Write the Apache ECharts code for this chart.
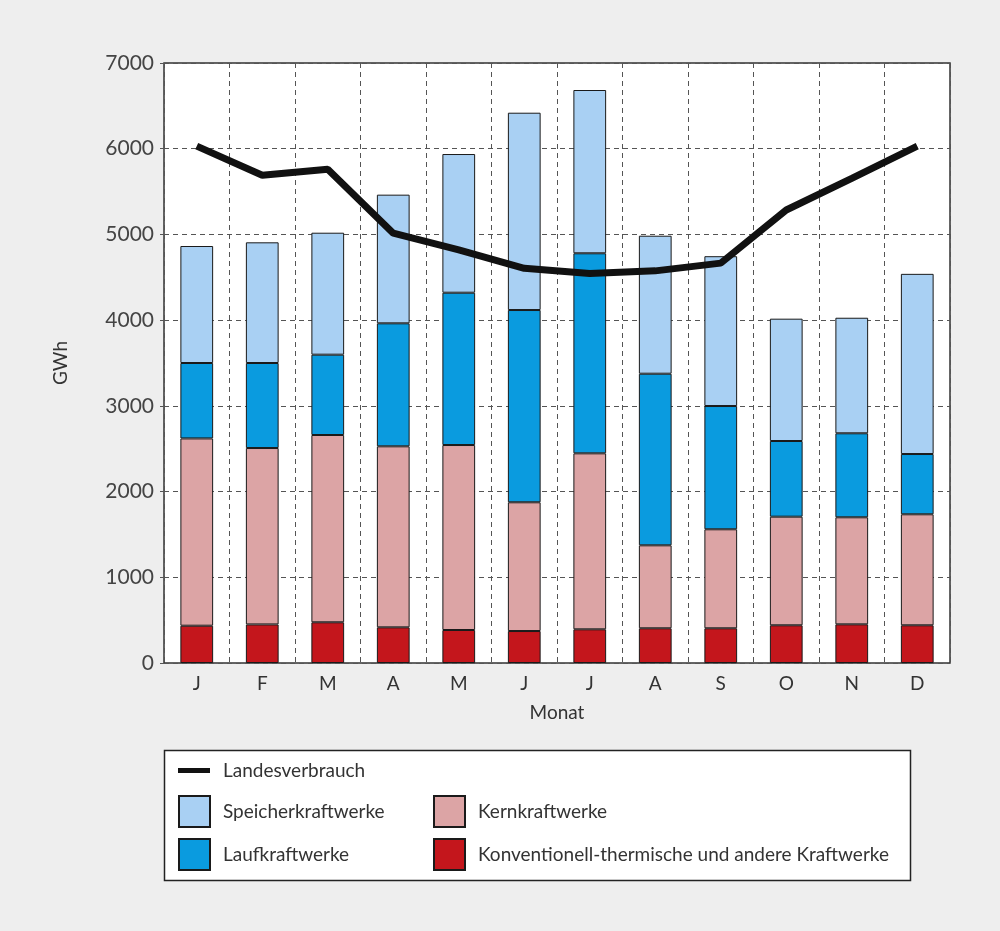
<!DOCTYPE html>
<html>
<head>
<meta charset="utf-8">
<script src="https://cdn.jsdelivr.net/npm/echarts@6/dist/echarts.min.js"></script>
<style>
  html, body { margin: 0; padding: 0; background: #eeeeee; }
  #chart1 { width: 1000px; height: 931px; }
</style>
</head>
<body>
<div id="chart1"></div>
<script>
    // Monate
    var monate = ['J','F','M','A','M','J','J','A','S','O','N','D'];
    var yTicks = [0, 1000, 2000, 3000, 4000, 5000, 6000, 7000];

    // Werte in GWh
    var konventionell = [435, 450, 475, 416, 385, 373, 393, 405, 405, 440, 451, 440];
    var kern          = [2185, 2058, 2185, 2112, 2158, 1502, 2053, 968, 1155, 1267, 1249, 1295];
    var lauf          = [880, 992, 937, 1435, 1777, 2243, 2334, 2002, 1438, 883, 980, 703];
    var speicher      = [1365, 1408, 1423, 1501, 1618, 2302, 1905, 1610, 1748, 1427, 1348, 2102];
    var landesverbrauch = [6030, 5690, 5760, 5015, 4820, 4605, 4545, 4575, 4665, 5285, 5655, 6030];

    var schrift = 'Lato, "Open Sans", sans-serif';
    var textStyle = { fontFamily: schrift, fontSize: 19, color: '#333', padding: [0, 0, 0, 8] };

    function balken(name, daten, farbe) {
        return {
            name: name,
            type: 'bar',
            stack: 'produktion',
            barWidth: '50%',
            data: daten,
            itemStyle: { color: farbe, borderColor: '#1a1a1a', borderWidth: 1 },
            emphasis: { disabled: true }
        };
    }

    var option = {
        backgroundColor: '#eeeeee',
        animation: false,
        textStyle: { fontFamily: schrift },
        grid: {
            left: 164, right: 50, top: 63, bottom: 268,
            show: true,
            backgroundColor: '#ffffff',
            borderColor: '#333',
            borderWidth: 1.5
        },
        graphic: [{
            type: 'rect',
            z: 0,
            shape: { x: 164.5, y: 750.5, width: 746, height: 130 },
            style: { fill: '#ffffff', stroke: '#222', lineWidth: 1.5 }
        }],
        legend: [{
            data: [{ name: 'Landesverbrauch', icon: 'rect' }],
            left: 173, top: 756,
            itemWidth: 32, itemHeight: 5,
            textStyle: textStyle
        }, {
            data: [{ name: 'Speicherkraftwerke', icon: 'rect' }, { name: 'Laufkraftwerke', icon: 'rect' }],
            orient: 'vertical',
            left: 173, top: 790,
            itemWidth: 31, itemHeight: 31, itemGap: 10,
            textStyle: textStyle
        }, {
            data: [{ name: 'Kernkraftwerke', icon: 'rect' }, { name: 'Konventionell-thermische und andere Kraftwerke', icon: 'rect' }],
            orient: 'vertical',
            left: 428, top: 790,
            itemWidth: 31, itemHeight: 31, itemGap: 10,
            textStyle: textStyle
        }],
        xAxis: {
            type: 'category',
            data: monate,
            name: 'Monat',
            nameLocation: 'middle',
            nameGap: 40,
            nameTextStyle: { fontFamily: schrift, fontSize: 19, color: '#333' },
            axisLine: { show: false },
            axisTick: { show: false },
            axisLabel: { fontFamily: schrift, fontSize: 19, color: '#333', margin: 11, interval: 0 },
            splitLine: {
                show: true,
                interval: 0,
                lineStyle: { color: '#555', type: [5, 4], width: 1 }
            }
        },
        yAxis: {
            type: 'value',
            min: yTicks[0],
            max: yTicks[yTicks.length - 1],
            interval: 1000,
            name: 'GWh',
            nameLocation: 'middle',
            nameGap: 94,
            nameTextStyle: { fontFamily: schrift, fontSize: 19, color: '#333' },
            axisLine: { show: false },
            axisTick: { show: true, length: 4, lineStyle: { color: '#555' } },
            axisLabel: {
                fontFamily: schrift, fontSize: 21, color: '#444', margin: 10,
                formatter: function (v) { return String(v); }
            },
            splitLine: { lineStyle: { color: '#555', type: [5, 4], width: 1 } }
        },
        series: [
            balken('Konventionell-thermische und andere Kraftwerke', konventionell, '#c4161c'),
            balken('Kernkraftwerke', kern, '#dca4a5'),
            balken('Laufkraftwerke', lauf, '#0a9bdf'),
            balken('Speicherkraftwerke', speicher, '#a9d0f3'),
            {
                name: 'Landesverbrauch',
                type: 'line',
                data: landesverbrauch,
                symbol: 'none',
                z: 5,
                lineStyle: { color: '#111', width: 7 },
                itemStyle: { color: '#111' },
                emphasis: { disabled: true }
            }
        ]
    };

    var myChart = echarts.init(document.getElementById('chart1'));
    myChart.setOption(option);
</script>
</body>
</html>
